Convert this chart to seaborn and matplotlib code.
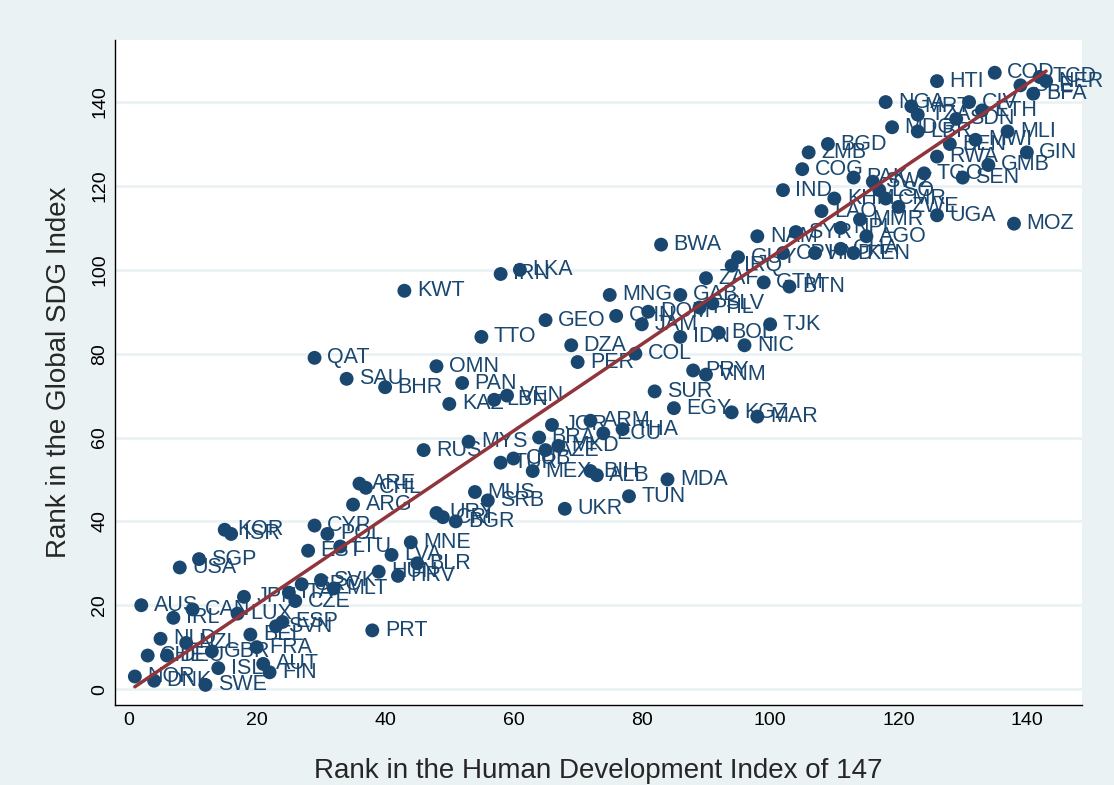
import numpy as np
import pandas as pd
import seaborn as sns
import matplotlib.pyplot as plt

# Country codes, HDI rank (x) and SDG index rank (y)
countries = ['NOR', 'DNK', 'CHE', 'DEU', 'NLD', 'NZL', 'AUS', 'IRL', 'CAN', 'USA',
             'SGP', 'KOR', 'ISR', 'SWE', 'ISL', 'GBR', 'FRA', 'BEL', 'AUT', 'FIN',
             'LUX', 'JPN', 'ESP', 'SVN', 'ITA', 'CZE', 'GRC', 'EST', 'CYP', 'POL',
             'LTU', 'SVK', 'MLT', 'HUN', 'LVA', 'HRV', 'BLR', 'MNE', 'PRT', 'ARG',
             'ARE', 'CHL', 'RUS', 'MYS', 'MUS', 'SRB', 'URY', 'CRI', 'BGR', 'QAT',
             'SAU', 'BHR', 'OMN', 'PAN', 'KAZ', 'LBN', 'VEN', 'KWT', 'TTO', 'IRN',
             'LKA', 'GEO', 'TUR', 'CUB', 'MEX', 'BRA', 'AZE', 'JOR', 'MKD', 'ARM',
             'BIH', 'ALB', 'ECU', 'THA', 'TUN', 'MDA', 'UKR', 'SUR', 'EGY', 'KGZ',
             'MAR', 'DZA', 'PER', 'COL', 'IDN', 'BOL', 'TJK', 'NIC', 'PRY', 'VNM',
             'BWA', 'MNG', 'CHN', 'DOM', 'JAM', 'GAB', 'PHL', 'SLV', 'ZAF', 'IRQ',
             'GUY', 'GTM', 'BTN', 'NAM', 'SYR', 'CPV', 'HND', 'GHA', 'KEN', 'AGO',
             'NPL', 'MMR', 'LAO', 'KHM', 'IND', 'COG', 'ZMB', 'BGD', 'PAK', 'SWZ',
             'LSO', 'CMR', 'ZWE', 'UGA', 'MOZ', 'TGO', 'RWA', 'SEN', 'GMB', 'GIN',
             'BEN', 'MWI', 'MLI', 'MDG', 'LBR', 'SDN', 'ETH', 'CIV', 'TZA', 'MRT',
             'NGA', 'HTI', 'COD', 'SLE', 'BFA', 'TCD', 'NER']
hdi_rank = [1, 4, 3, 6, 5, 9, 2, 7, 10, 8,
            11, 15, 16, 12, 14, 13, 20, 19, 21, 22,
            17, 18, 24, 23, 25, 26, 27, 28, 29, 31,
            33, 30, 32, 39, 41, 42, 45, 44, 38, 35,
            36, 37, 46, 53, 54, 56, 48, 49, 51, 29,
            34, 40, 48, 52, 50, 57, 59, 43, 55, 58,
            61, 65, 58, 60, 63, 64, 65, 66, 67, 72,
            72, 73, 74, 77, 78, 84, 68, 82, 85, 94,
            98, 69, 70, 79, 86, 92, 100, 96, 88, 90,
            83, 75, 76, 81, 80, 86, 89, 91, 90, 94,
            95, 99, 103, 98, 104, 102, 107, 111, 113, 115,
            111, 114, 108, 110, 102, 105, 106, 109, 113, 116,
            117, 118, 120, 126, 138, 124, 126, 130, 134, 140,
            128, 132, 137, 119, 123, 129, 133, 131, 123, 122,
            118, 126, 135, 139, 141, 142, 143]
sdg_rank = [3, 2, 8, 8, 12, 11, 20, 17, 19, 29,
            31, 38, 37, 1, 5, 9, 10, 13, 6, 4,
            18, 22, 16, 15, 23, 21, 25, 33, 39, 37,
            34, 26, 24, 28, 32, 27, 30, 35, 14, 44,
            49, 48, 57, 59, 47, 45, 42, 41, 40, 79,
            74, 72, 77, 73, 68, 69, 70, 95, 84, 99,
            100, 88, 54, 55, 52, 60, 57, 63, 58, 64,
            52, 51, 61, 62, 46, 50, 43, 71, 67, 66,
            65, 82, 78, 80, 84, 85, 87, 82, 76, 75,
            106, 94, 89, 90, 87, 94, 91, 92, 98, 101,
            103, 97, 96, 108, 109, 104, 104, 105, 104, 108,
            110, 112, 114, 117, 119, 124, 128, 130, 122, 121,
            119, 117, 115, 113, 111, 123, 127, 122, 125, 128,
            130, 131, 133, 134, 133, 136, 138, 140, 137, 139,
            140, 145, 147, 144, 142, 146, 145]

df = pd.DataFrame({'country': countries, 'hdi': hdi_rank, 'sdg': sdg_rank})

navy = '#1A476F'
maroon = '#90353B'
bg = '#EAF2F3'

sns.set_style('white')
plt.rcParams['font.family'] = ['Liberation Sans', 'DejaVu Sans']

fig = plt.figure(figsize=(11.14, 7.85), dpi=100, facecolor=bg)
ax = fig.add_axes([0.1032, 0.1019, 0.8681, 0.8471])
ax.set_facecolor('white')
ax.set_axisbelow(True)
ax.grid(axis='y', color=bg, linewidth=2)
ax.grid(axis='x', visible=False)

sns.scatterplot(data=df, x='hdi', y='sdg', color=navy, s=100, edgecolor='none',
                ax=ax, zorder=3)
for c, x, y in zip(df['country'], df['hdi'], df['sdg']):
    ax.annotate(c, (x, y), xytext=(9, 0), textcoords='offset points',
                va='center', ha='left', fontsize=15.5, color=navy, zorder=4)

# Fitted line (reduced major axis through the means), over the data range
slope = df['sdg'].std() / df['hdi'].std()
intercept = df['sdg'].mean() - slope * df['hdi'].mean()
xs = np.array([df['hdi'].min(), df['hdi'].max()])
fit = pd.DataFrame({'hdi': xs, 'sdg': intercept + slope * xs})
sns.lineplot(data=fit, x='hdi', y='sdg', color=maroon, linewidth=2.5, ax=ax, zorder=5)

ax.set_xlim(-2.1, 148.6)
ax.set_ylim(-3.8, 154.8)
ax.set_xticks(range(0, 141, 20))
ax.set_yticks(range(0, 141, 20))
ax.tick_params(axis='both', direction='out', length=4, width=1, color='black',
               labelsize=14, labelcolor='black', pad=1)
for lbl in ax.get_yticklabels():
    lbl.set_rotation(90)
    lbl.set_va('center')

for side in ['top', 'right']:
    ax.spines[side].set_visible(False)
for side in ['left', 'bottom']:
    ax.spines[side].set_color('black')
    ax.spines[side].set_linewidth(1)

ax.set_xlabel('Rank in the Human Development Index of 147', fontsize=20, labelpad=21)
ax.set_ylabel('Rank in the Global SDG Index', fontsize=20, labelpad=14)

fig.savefig('out.png', dpi=100, facecolor=bg)
